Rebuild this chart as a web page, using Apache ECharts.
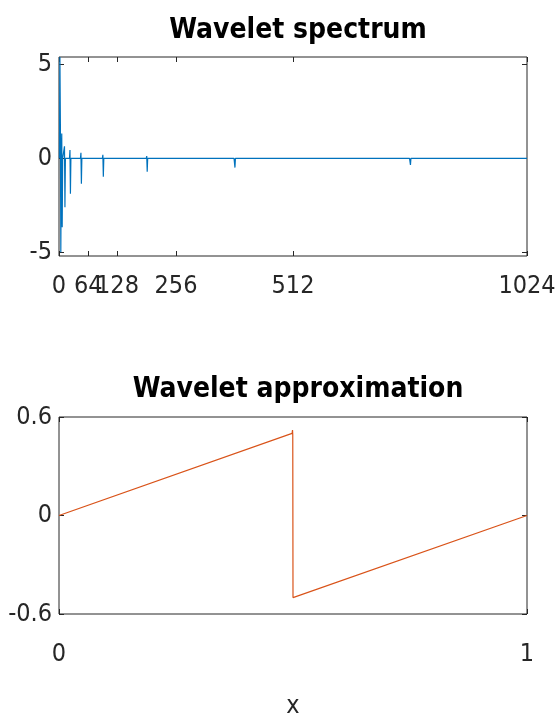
<!DOCTYPE html>
<html>
<head>
<meta charset="utf-8">
<script src="https://cdn.jsdelivr.net/npm/echarts@6/dist/echarts.min.js"></script>
<style>
html,body{margin:0;padding:0;background:#fff;}
#chart{width:557px;height:727px;}
</style>
</head>
<body>
<div id="chart"></div>
<script>
// top plot: wavelet coefficients (index, value)
var specX = [1, 2, 3, 4, 5, 6, 7, 8, 11, 12, 13, 14, 23, 24, 25, 26, 47, 48, 49, 50,
  95, 96, 97, 98, 191, 192, 193, 194, 383, 384, 385, 386, 767, 768, 769, 770, 1024];
var specY = [0, 5.4, 1.9, -5.0, 0, 1.33, -3.67, 0, 0, 0.64, -2.6, 0, 0, 0.44, -1.88, 0, 0, 0.3, -1.35, 0,
  0, 0.19, -0.98, 0, 0, 0.12, -0.71, 0, 0, 0.07, -0.49, 0, 0, 0.05, -0.35, 0, 0];
var specTicks = [0, 64, 128, 256, 512, 1024];
var specYTicks = [-5, 0, 5];

// bottom plot: approximation of the sawtooth
var approxX = [0, 0.498, 0.499, 0.4995, 0.5, 1];
var approxY = [0, 0.5, 0.52, 0.49, -0.5, 0];

var axisColor = '#262626';
var fontFam = '"Liberation Sans Narrow", "DejaVu Sans Condensed", Arial, sans-serif';
var labelSize = 25;
var titleSize = 28;

function pairs(xs, ys) {
  var out = [];
  for (var i = 0; i < xs.length; i++) out.push([xs[i], ys[i]]);
  return out;
}

function tickFmt(v) {
  if (Math.abs(v) < 1e-9) return '0';
  return String(+v.toFixed(1));
}

var myChart = echarts.init(document.getElementById('chart'));

// ticks only, used for top / right sides of each box
function sideAxis(grid, min, max, pos, ticks, interval) {
  var ax = {
    type: 'value', gridIndex: grid, min: min, max: max, position: pos,
    axisLine: {show: false, onZero: false}, splitLine: {show: false}, axisLabel: {show: false},
    axisTick: {inside: true, length: 5, lineStyle: {color: axisColor}}
  };
  if (ticks) ax.axisTick.customValues = ticks;
  if (interval) ax.interval = interval;
  return ax;
}

var option = {
  backgroundColor: '#fff',
  animation: false,
  title: [
    {
      text: 'Wavelet spectrum',
      left: 293, top: 12, textAlign: 'center',
      textStyle: {fontFamily: fontFam, fontSize: titleSize, fontWeight: 'bold', color: '#000'}
    },
    {
      text: 'Wavelet approximation',
      left: 293, top: 371, textAlign: 'center',
      textStyle: {fontFamily: fontFam, fontSize: titleSize, fontWeight: 'bold', color: '#000'}
    }
  ],
  grid: [
    {left: 59, top: 57, width: 468, height: 199, show: true, borderColor: axisColor, borderWidth: 1, outerBoundsMode: 'none'},
    {left: 59, top: 417, width: 468, height: 197, show: true, borderColor: axisColor, borderWidth: 1, outerBoundsMode: 'none'}
  ],
  xAxis: [
    {
      type: 'value', gridIndex: 0, min: 0, max: 1024, position: 'bottom',
      axisLine: {show: false, onZero: false},
      splitLine: {show: false},
      axisTick: {inside: true, length: 5, customValues: specTicks, lineStyle: {color: axisColor}},
      axisLabel: {customValues: specTicks, margin: 18, color: axisColor, fontFamily: fontFam, fontSize: labelSize,
        formatter: function (v) { return String(v); }}
    },
    sideAxis(0, 0, 1024, 'top', specTicks),
    {
      type: 'value', gridIndex: 1, min: 0, max: 1, interval: 1, position: 'bottom',
      axisLine: {show: false, onZero: false}, splitLine: {show: false},
      axisTick: {inside: true, length: 5, lineStyle: {color: axisColor}},
      axisLabel: {margin: 28, color: axisColor, fontFamily: fontFam, fontSize: labelSize},
      name: 'x', nameLocation: 'middle', nameGap: 80,
      nameTextStyle: {color: axisColor, fontFamily: fontFam, fontSize: labelSize}
    },
    sideAxis(1, 0, 1, 'top', null, 1)
  ],
  yAxis: [
    {
      type: 'value', gridIndex: 0, min: -5.2, max: 5.4, position: 'left',
      axisLine: {show: false, onZero: false}, splitLine: {show: false},
      axisTick: {inside: true, length: 5, customValues: specYTicks, lineStyle: {color: axisColor}},
      axisLabel: {customValues: specYTicks, margin: 7, padding: [16, 0, 0, 0], color: axisColor,
        fontFamily: fontFam, fontSize: labelSize}
    },
    sideAxis(0, -5.2, 5.4, 'right', specYTicks),
    {
      type: 'value', gridIndex: 1, min: -0.6, max: 0.6, interval: 0.6, position: 'left',
      axisLine: {show: false, onZero: false}, splitLine: {show: false},
      axisTick: {inside: true, length: 5, lineStyle: {color: axisColor}},
      axisLabel: {margin: 7, padding: [16, 0, 0, 0], color: axisColor, fontFamily: fontFam, fontSize: labelSize,
        formatter: tickFmt}
    },
    sideAxis(1, -0.6, 0.6, 'right', null, 0.6)
  ],
  series: [
    {
      type: 'line', xAxisIndex: 0, yAxisIndex: 0,
      data: pairs(specX, specY),
      showSymbol: false, symbol: 'none',
      lineStyle: {color: '#0072BD', width: 1.2}
    },
    {
      type: 'line', xAxisIndex: 2, yAxisIndex: 2,
      data: pairs(approxX, approxY),
      showSymbol: false, symbol: 'none',
      lineStyle: {color: '#D95319', width: 1.2}
    }
  ]
};

myChart.setOption(option);
</script>
</body>
</html>
